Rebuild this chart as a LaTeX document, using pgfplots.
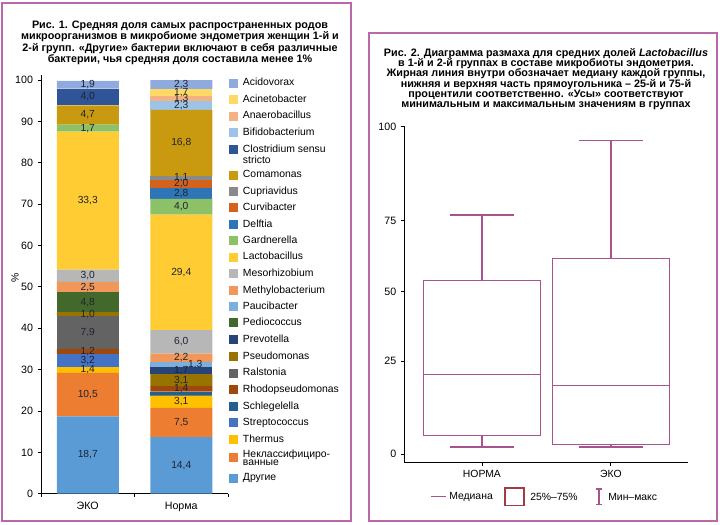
\documentclass[border=0pt]{standalone}
\usepackage{fontspec}
\setmainfont{Liberation Sans}
\usepackage{pgfplots}
\pgfplotsset{compat=1.18}
\usepackage{pgfplotstable}
\usepgfplotslibrary{statistics}

\definecolor{coth}{HTML}{5B9BD5}
\definecolor{cuncl}{HTML}{ED7D31}
\definecolor{ctherm}{HTML}{FFC000}
\definecolor{cstrep}{HTML}{4472C4}
\definecolor{cschl}{HTML}{255E91}
\definecolor{crhodo}{HTML}{9E480E}
\definecolor{cral}{HTML}{636363}
\definecolor{cpseu}{HTML}{997300}
\definecolor{cprev}{HTML}{264478}
\definecolor{cped}{HTML}{43682B}
\definecolor{cpauc}{HTML}{7CAFDD}
\definecolor{cmeth}{HTML}{F1975A}
\definecolor{cmeso}{HTML}{B7B7B7}
\definecolor{clact}{HTML}{FFCD33}
\definecolor{cgard}{HTML}{8CC168}
\definecolor{cdelf}{HTML}{2E75B6}
\definecolor{ccurv}{HTML}{D2621C}
\definecolor{ccupr}{HTML}{8A8A8A}
\definecolor{ccoma}{HTML}{C99A10}
\definecolor{cclos}{HTML}{2F5597}
\definecolor{cbifi}{HTML}{9DC3E6}
\definecolor{canae}{HTML}{F4B183}
\definecolor{cacin}{HTML}{FFD966}
\definecolor{cacid}{HTML}{8FAADC}
\definecolor{framec}{HTML}{B868AB}
\definecolor{boxc}{HTML}{A8528F}
\definecolor{legred}{HTML}{A33A45}
\definecolor{labc}{HTML}{1E2430}

\pgfplotsset{/pgf/number format/assume math mode=true}

% s = scale so that each bar sums to 100
\pgfplotstableread{
x s      oth  uncl therm strep schl rhodo ral pseu prev ped pauc meth meso lact gard delf curv cupr coma clos bifi anae acin acid
0 1      18.7 10.5 1.4   3.2   0    1.2   7.9 1.0  0    4.8 0    2.5  3.0  33.3 1.7  0    0    0    4.7  4.0  0    0    0    1.9
1 0.9488 14.4 7.5  3.1   0     1.0  1.4   0   3.1  1.7  0   1.3  2.2  6.0  29.4 4.0  2.8  2.0  1.1  16.8 0    2.3  1.3  1.7  2.3
}\stackdata

% value labels: middle of each segment (in the scaled axis units)
\pgfplotstableread{
x    y     lab
0    9.35  18,7
0    23.95 10,5
0    29.9  1,4
0    32.2  3,2
0    34.4  1,2
0    38.95 7,9
0    43.4  1,0
0    46.3  4,8
0    49.95 2,5
0    52.7  3,0
0    70.85 33,3
0    88.35 1,7
0    91.55 4,7
0    95.9  4,0
0    98.85 1,9
1    6.83  14,4
1    17.22 7,5
1    22.25 3,1
1    25.33 1,4
1    27.47 3,1
1    29.74 1,7
1.15 31.17 1,3
1    32.83 2,2
1    36.72 6,0
1    53.51 29,4
1    69.36 4,0
1    72.58 2,8
1    74.86 2,0
1    76.33 1,1
1    84.82 16,8
1    93.88 2,3
1    95.59 1,3
1    97.01 1,7
1    98.91 2,3
}\labdata

\newcommand\seg[2]{%
  \addplot[fill=#2, draw=none]
    table[x=x, y expr=\thisrow{#1}*\thisrow{s}] {\stackdata};}

\newcommand\lf{\fontsize{7.8}{9}\selectfont}

\begin{document}
\begin{tikzpicture}
\path[use as bounding box] (0,0) rectangle (540pt,393pt);

\begin{scope}[x=0.75pt,y=-0.75pt,shift={(0pt,393pt)}]
\draw[framec, line width=1.1pt] (2,3) rectangle (351,521);
\draw[framec, line width=1.1pt] (369,33) rectangle (717,521);

\node[font=\bfseries\fontsize{8.1}{8.5}\selectfont, align=center] at (180,43)
  {Рис. 1. Средняя доля самых распространенных родов\\
   микроорганизмов в микробиоме эндометрия женщин 1-й и\\
   2-й групп. «Другие» бактерии включают в себя различные\\
   бактерии, чья средняя доля составила менее 1\%};

\node[font=\bfseries\fontsize{8.1}{7.75}\selectfont, align=center] at (546,79)
  {Рис. 2. Диаграмма размаха для средних долей \textit{Lactobacillus}\\
   в 1-й и 2-й группах в составе микробиоты эндометрия.\\
   Жирная линия внутри обозначает медиану каждой группы,\\
   нижняя и верхняя часть прямоугольника – 25-й и 75-й\\
   процентили соответственно. «Усы» соответствуют\\
   минимальным и максимальным значениям в группах};

% legend of the stacked bars
\foreach \yy/\cc/\nm in {83.3/cacid/Acidovorax, 100/cacin/Acinetobacter,
  116.3/canae/Anaerobacillus, 132.7/cbifi/Bifidobacterium,
  175.3/ccoma/Comamonas, 191.5/ccupr/Cupriavidus, 207.7/ccurv/Curvibacter,
  224.5/cdelf/Delftia, 241/cgard/Gardnerella, 257.3/clact/Lactobacillus,
  274/cmeso/Mesorhizobium, 291/cmeth/Methylobacterium, 306.5/cpauc/Paucibacter,
  322.7/cped/Pediococcus, 340/cprev/Prevotella, 357/cpseu/Pseudomonas,
  373.3/cral/Ralstonia, 390/crhodo/Rhodopseudomonas, 406.7/cschl/Schlegelella,
  423/cstrep/Streptococcus, 440/ctherm/Thermus, 478.3/coth/Другие}{
  \fill[\cc] (229.3,\yy-4.5) rectangle (238.3,\yy+4.5);
  \node[anchor=west, inner sep=0pt, font=\lf, text height=5.6pt, text depth=1.6pt] at (242.7,\yy) {\nm};
}
\fill[cclos] (229.3,149.3-4.5) rectangle (238.3,149.3+4.5);
\node[anchor=north west, inner sep=0pt, font=\fontsize{7.8}{8}\selectfont, align=left] at (242.7,144.6) {Clostridium sensu\\stricto};
\fill[cuncl] (229.3,458-4.5) rectangle (238.3,458+4.5);
\node[anchor=west, inner sep=0pt, font=\fontsize{7.8}{6.3}\selectfont, align=left] at (242.7,457.5) {Неклассифициро-\\ванные};

% legend of the box plot
\draw[boxc, line width=0.8pt] (431,496.7) -- (446,496.7);
\node[anchor=west, inner sep=0pt, font=\lf] at (449,496.7) {Медиана};
\draw[legred, line width=0.8pt] (505,488) rectangle (524,505.5);
\node[anchor=west, inner sep=0pt, font=\lf] at (530,496.7) {25\%–75\%};
\draw[boxc, line width=0.8pt] (596,489) -- (602,489) (599,489) -- (599,504.5) (596,504.5) -- (602,504.5);
\node[anchor=west, inner sep=0pt, font=\lf] at (608,496.7) {Мин–макс};
\end{scope}

% Fig. 1: stacked bars
\begin{axis}[
  at={(30.75pt,22.7pt)}, anchor=south west,
  width=140.25pt, height=314pt, scale only axis,
  ybar stacked, bar width=46.5pt,
  xmin=-0.5, xmax=1.5, ymin=0, ymax=101.2,
  xtick={0,1}, xticklabels={ЭКО,Норма},
  minor xtick={-0.5,0.5,1.5},
  major x tick style={draw=none},
  ytick={0,10,...,100},
  axis lines*=left, axis line style={black, line width=0.7pt},
  tick align=outside, major tick length=2.5pt, minor tick length=2.5pt,
  tick style={black, line width=0.6pt},
  ticklabel style={font=\fontsize{8}{9}\selectfont},
  ylabel={\%},
  ylabel style={at={(axis description cs:-0.139,0.515)}, anchor=center, font=\fontsize{7.8}{9}\selectfont},
]
\seg{oth}{coth}
\seg{uncl}{cuncl}
\seg{therm}{ctherm}
\seg{strep}{cstrep}
\seg{schl}{cschl}
\seg{rhodo}{crhodo}
\seg{ral}{cral}
\seg{pseu}{cpseu}
\seg{prev}{cprev}
\seg{ped}{cped}
\seg{pauc}{cpauc}
\seg{meth}{cmeth}
\seg{meso}{cmeso}
\seg{lact}{clact}
\seg{gard}{cgard}
\seg{delf}{cdelf}
\seg{curv}{ccurv}
\seg{cupr}{ccupr}
\seg{coma}{ccoma}
\seg{clos}{cclos}
\seg{bifi}{cbifi}
\seg{anae}{canae}
\seg{acin}{cacin}
\seg{acid}{cacid}
\end{axis}

% value labels over the bars
\begin{axis}[
  at={(30.75pt,22.7pt)}, anchor=south west,
  width=140.25pt, height=314pt, scale only axis, hide axis, clip=false,
  xmin=-0.5, xmax=1.5, ymin=0, ymax=101.2,
]
\addplot[only marks, mark=*, mark size=0pt, mark options={draw=none, fill=none},
  point meta=explicit symbolic, nodes near coords,
  every node near coord/.append style={anchor=center, inner sep=0pt,
    font=\fontsize{7.7}{9}\selectfont, text=labc}]
  table[x=x, y=y, meta=lab] {\labdata};
\end{axis}

% Fig. 2: box plot of Lactobacillus (the printed scale is uneven between its ticks)
\begin{axis}[
  at={(303.2pt,46.3pt)}, anchor=south west,
  width=213pt, height=252.2pt, scale only axis,
  y coord trafo/.code={\edef\argv{#1}%
    \ifx\argv\empty\let\pgfmathresult\empty\else
    \pgfmathparse{ifthenelse(\argv<25, 1.1392*\argv,
      ifthenelse(\argv<50, 28.48+0.846*(\argv-25),
      ifthenelse(\argv<75, 49.63+0.8672*(\argv-50), 71.31+1.1476*(\argv-75))))}\fi},
  xmin=0.398, xmax=2.6, ymin=-2.14, ymax=100.2,
  xtick={1,2}, xticklabels={НОРМА,ЭКО},
  ytick={0,25,50,75,100}, yticklabels={0,25,50,75,100},
  axis lines*=left, axis line style={black, line width=0.8pt},
  tick align=outside, major tick length=2.5pt,
  tick style={black, line width=0.6pt},
  ticklabel style={font=\fontsize{8}{9}\selectfont},
  xticklabel style={font=\fontsize{7.8}{9}\selectfont},
  boxplot/draw direction=y,
]
\addplot[boxc, line width=0.6pt,
  boxplot/every whisker/.style={line width=1.1pt},
  boxplot prepared={draw position=1, lower whisker=2.0, lower quartile=5.1,
    median=21.5, upper quartile=53.9, upper whisker=76.5,
    box extend=0.907, whisker extend=0.5}] coordinates {};
\addplot[boxc, line width=0.6pt,
  boxplot/every whisker/.style={line width=1.1pt},
  boxplot prepared={draw position=2, lower whisker=2.0, lower quartile=2.6,
    median=18.4, upper quartile=61.8, upper whisker=96.3,
    box extend=0.907, whisker extend=0.5}] coordinates {};
\end{axis}
\end{tikzpicture}
\end{document}
